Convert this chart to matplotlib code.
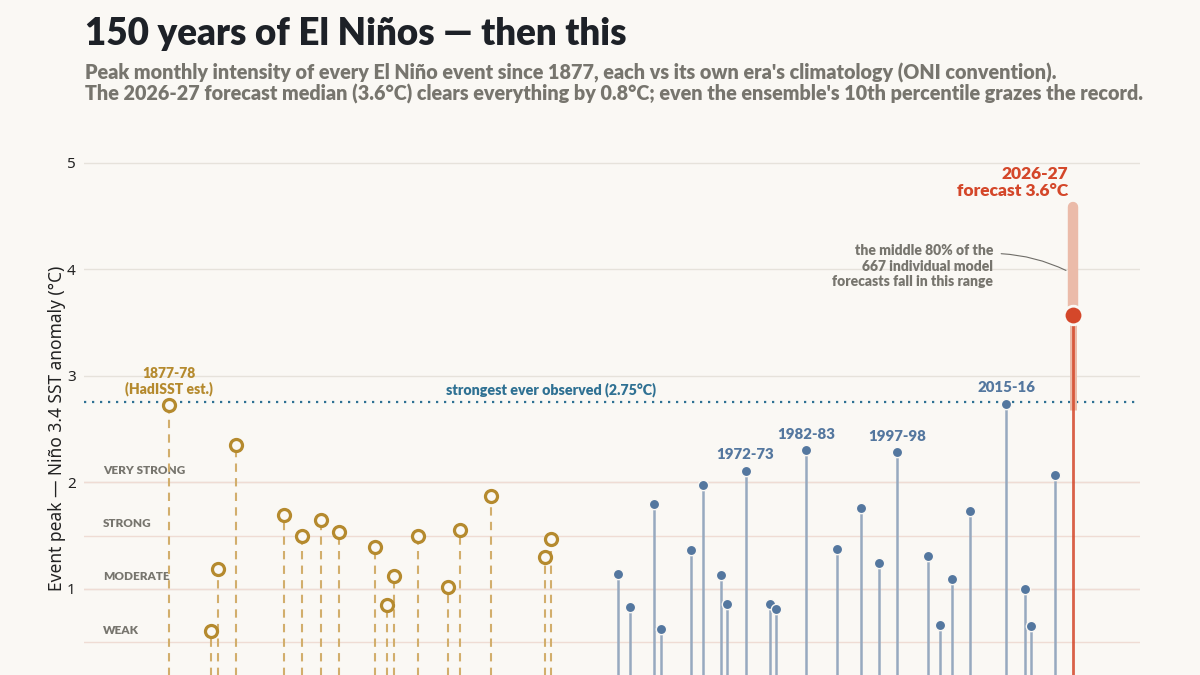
import matplotlib
matplotlib.use("Agg")
import matplotlib.pyplot as plt
import numpy as np

# pre-1950 events (reconstructed, HadISST era)
hist_years = [1877, 1884, 1885, 1888, 1896, 1899, 1902, 1905, 1911, 1913, 1914,
              1918, 1923, 1925, 1930, 1939, 1940]
hist_peaks = [2.73, 0.60, 1.19, 2.35, 1.69, 1.50, 1.65, 1.53, 1.39, 0.85, 1.12,
              1.50, 1.02, 1.55, 1.87, 1.30, 1.47]

# ONI era events
oni_years = [1951, 1953, 1957, 1958, 1963, 1965, 1968, 1969, 1972, 1976, 1977, 1982,
             1987, 1991, 1994, 1997, 2002, 2004, 2006, 2009, 2015, 2018, 2019, 2023]
oni_peaks = [1.14, 0.83, 1.80, 0.62, 1.36, 1.97, 1.13, 0.86, 2.11, 0.86, 0.81, 2.30,
             1.37, 1.76, 1.24, 2.28, 1.31, 0.66, 1.09, 1.73, 2.74, 1.00, 0.65, 2.07]
oni_labels = {1972: "1972-73", 1982: "1982-83", 1997: "1997-98", 2015: "2015-16"}

fc_year = 2026
fc_median = 3.57
fc_p10, fc_p90 = 2.68, 4.59
record = 2.75

categories = ["WEAK", "MODERATE", "STRONG", "VERY STRONG"]
thresholds = [0.5, 1.0, 1.5, 2.0]

BG = "#faf8f4"
GOLD = "#b58a2e"
GOLD_STEM = "#d2ae6c"
BLUE = "#54779f"
BLUE_STEM = "#97a9bf"
RED = "#d4472a"
BAND = "#ebbba9"
TEAL = "#2f7193"
GRAY = "#77756e"
FONT = "Lato"

fig = plt.figure(figsize=(12, 6.75), dpi=100, facecolor=BG)
ax = fig.add_axes([0.07, 0.0, 0.88, 0.806], facecolor=BG)
ax.set_xlim(1863, 2037)
ax.set_ylim(0.19, 5.3)

for v in [1, 2, 3, 4, 5]:
    ax.axhline(v, color="#e6e2db", lw=1, zorder=0)
for v, name in zip(thresholds, categories):
    ax.axhline(v, color="#efdcd4", lw=1, zorder=0)
    ax.text(1866.1, v + 0.06, name, fontsize=8.5, fontweight="heavy", color=GRAY,
            family=FONT, va="bottom", ha="left", zorder=1)

ax.axhline(record, color=TEAL, lw=1.6, ls=(0, (1, 2.6)), zorder=2)
ax.text(1940, record + 0.05, "strongest ever observed (2.75°C)", color=TEAL,
        fontsize=10.3, fontweight="heavy", family=FONT, ha="center", va="bottom")

# historical lollipops
for x, y in zip(hist_years, hist_peaks):
    ax.plot([x, x], [0, y - 0.05], color=GOLD_STEM, lw=1.5, ls=(0, (4, 3)), zorder=3)
ax.scatter(hist_years, hist_peaks, s=75, facecolor=BG, edgecolor=GOLD,
           linewidth=2.3, zorder=4)
ax.text(1877, 2.81, "1877-78\n(HadISST est.)", color=GOLD, fontsize=10,
        fontweight="heavy", family=FONT, ha="center", va="bottom", linespacing=1.1)

# ONI lollipops
ax.vlines(oni_years, 0, oni_peaks, color=BLUE_STEM, lw=1.8, zorder=3)
ax.scatter(oni_years, oni_peaks, s=55, color=BLUE, edgecolor=BG, linewidth=1,
           zorder=4)
for x, y in zip(oni_years, oni_peaks):
    if x in oni_labels:
        ax.text(x, y + 0.09, oni_labels[x], color=BLUE, fontsize=10.8,
                fontweight="heavy", family=FONT, ha="center", va="bottom")

# forecast
ax.plot([fc_year, fc_year], [fc_median, fc_p90], color=BAND, lw=7.5,
        solid_capstyle="round", zorder=3)
ax.plot([fc_year, fc_year], [fc_p10, fc_median], color=BAND, lw=5,
        solid_capstyle="butt", zorder=3)
ax.plot([fc_year, fc_year], [0, fc_median], color=RED, lw=2, zorder=4, alpha=0.85)
ax.scatter([fc_year], [fc_median], s=180, color=RED, edgecolor=BG, linewidth=2,
           zorder=5)
ax.text(fc_year - 0.9, 4.66, "2026-27\nforecast 3.6°C", color=RED, fontsize=12.5,
        fontweight="heavy", family=FONT, ha="right", va="bottom", linespacing=1.1)
ax.annotate("the middle 80% of the\n667 individual model\nforecasts fall in this range",
            xy=(fc_year - 1.2, 3.99), xytext=(2012.8, 4.03),
            color=GRAY, fontsize=10, fontweight="heavy", family=FONT,
            ha="right", va="center", linespacing=1.25,
            arrowprops=dict(arrowstyle="-", color="#6f6d68", lw=0.8,
                            shrinkA=0, shrinkB=0, relpos=(1.05, 0.78),
                            connectionstyle="arc3,rad=-0.1"))

for s in ax.spines.values():
    s.set_visible(False)
ax.set_xticks([])
ax.set_yticks([1, 2, 3, 4, 5])
ax.tick_params(axis="y", length=0, labelsize=11, labelcolor="#222222", pad=6)
for lab in ax.get_yticklabels():
    lab.set_family("Noto Sans")
ax.set_ylabel("Event peak — Niño 3.4 SST anomaly (°C)", fontsize=12.5,
              color="#222222", family="Noto Sans")
ax.yaxis.set_label_coords(-0.0175, 0.454)

fig.text(0.071, 0.933, "150 years of El Niños — then this", fontsize=26.5,
         fontweight="heavy", family=FONT, color="#1d2127", va="baseline")
fig.text(0.071, 0.851,
         "Peak monthly intensity of every El Niño event since 1877, each vs its own era's "
         "climatology (ONI convention).\nThe 2026-27 forecast median (3.6°C) clears everything "
         "by 0.8°C; even the ensemble's 10th percentile grazes the record.",
         fontsize=14.2, fontweight="heavy", family=FONT, color=GRAY, va="baseline",
         linespacing=1.05)

fig.savefig("out.png", dpi=100, facecolor=BG)
